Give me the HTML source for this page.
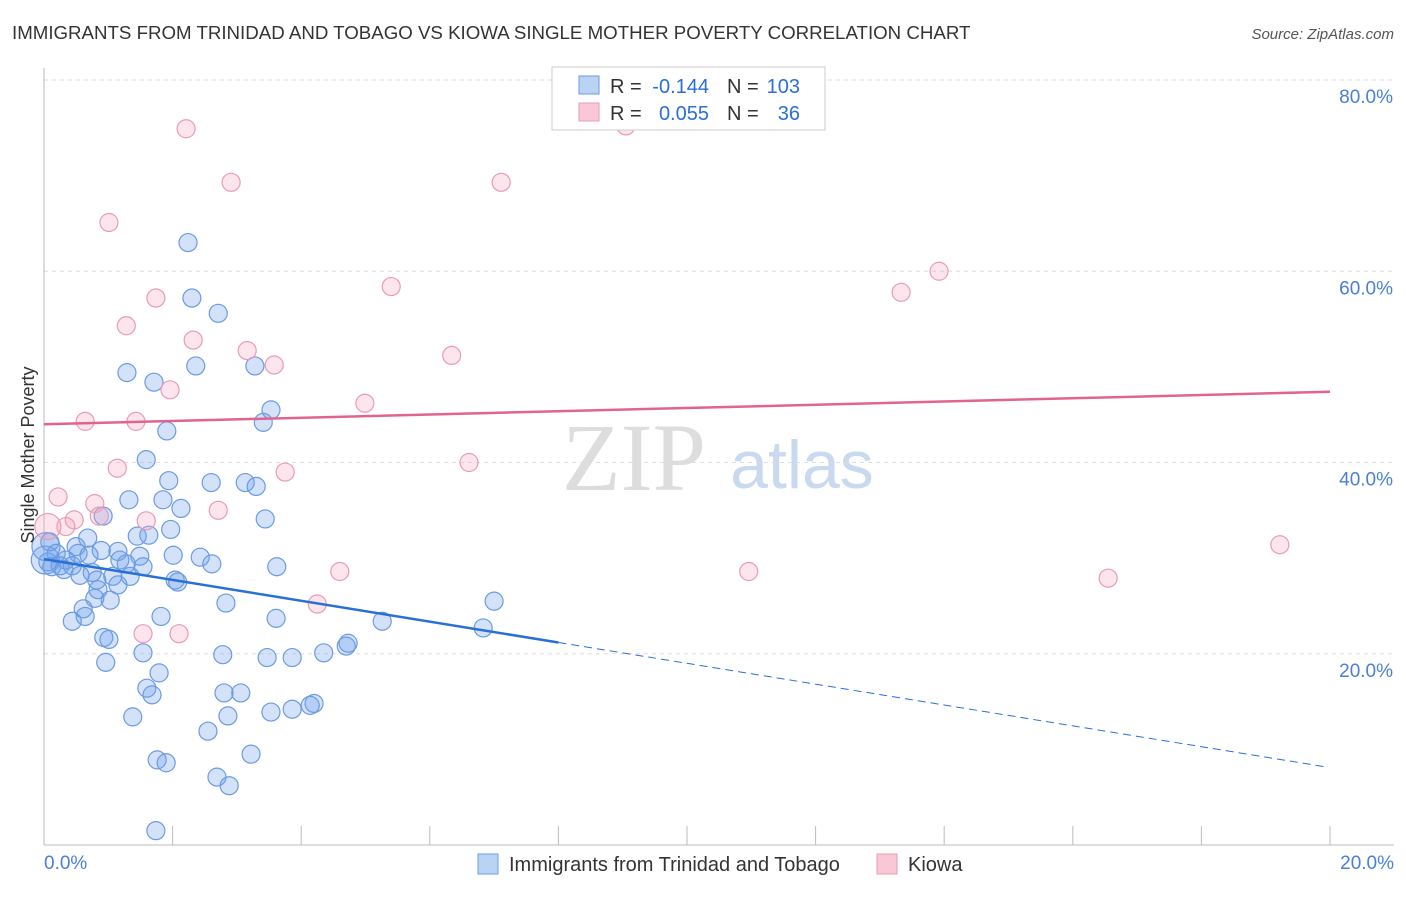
<!DOCTYPE html>
<html><head><meta charset="utf-8"><style>
body{margin:0;background:#fff;font-family:"Liberation Sans",sans-serif;}
</style></head><body>
<svg id="chart" width="1406" height="892" xmlns="http://www.w3.org/2000/svg">
<text x="12" y="39" font-size="18.7" fill="#333">IMMIGRANTS FROM TRINIDAD AND TOBAGO VS KIOWA SINGLE MOTHER POVERTY CORRELATION CHART</text>
<text x="1394" y="39" font-size="15" fill="#555" font-style="italic" text-anchor="end">Source: ZipAtlas.com</text>
<text x="634" y="490" font-size="96" fill="#ddd" font-family="Liberation Serif" text-anchor="middle">ZIP</text>
<text x="802" y="488" font-size="68" fill="#c8d9f0" text-anchor="middle">atlas</text>
<g id="grid"></g><g id="axes"></g><g id="pts"></g><g id="lines"></g>
<text x="34" y="455" font-size="18" fill="#333" transform="rotate(-90 34 455)" text-anchor="middle">Single Mother Poverty</text>
<g>
<rect x="552" y="67" width="273" height="63" fill="#fff" stroke="#ccc"/>
<rect x="579" y="76" width="20" height="18" fill="#b9d3f5" stroke="#6b9be0"/>
<rect x="579" y="103" width="20" height="18" fill="#f9c7d6" stroke="#e99bb5"/>
<text x="610" y="93" font-size="20" fill="#333">R =</text>
<text x="709" y="93" font-size="20" fill="#2a6fd6" text-anchor="end">-0.144</text>
<text x="727" y="93" font-size="20" fill="#333">N =</text>
<text x="800" y="93" font-size="20" fill="#2a6fd6" text-anchor="end">103</text>
<text x="610" y="120" font-size="20" fill="#333">R =</text>
<text x="709" y="120" font-size="20" fill="#2a6fd6" text-anchor="end">0.055</text>
<text x="727" y="120" font-size="20" fill="#333">N =</text>
<text x="800" y="120" font-size="20" fill="#2a6fd6" text-anchor="end">36</text>
</g>
<g>
<rect x="478" y="854" width="20" height="20" fill="#b9d3f5" stroke="#6b9be0"/>
<text x="509" y="871" font-size="20" fill="#333">Immigrants from Trinidad and Tobago</text>
<rect x="877" y="854" width="20" height="20" fill="#f9c7d6" stroke="#e99bb5"/>
<text x="908" y="871" font-size="20" fill="#333">Kiowa</text>
</g>
</svg>
<script>
const xTicks=[0,20];
const yTicks=[20,40,60,80];
const blueX=[2.24,2.30,2.71,2.36,3.28,1.29,1.71,3.53,3.41,1.91,1.59,1.94,2.60,3.13,3.30,1.32,1.85,2.13,0.92,3.44,1.97,1.45,1.63,0.68,0.09,0.50,0.89,1.15,0.19,0.53,0.70,2.01,1.49,2.43,1.18,0.34,0.06,1.28,2.61,0.25,0.44,1.54,3.62,0.12,0.31,0.75,0.56,1.07,1.34,0.82,2.04,2.08,1.15,0.84,0.79,1.03,2.83,7.00,0.61,1.82,0.64,3.61,0.44,5.26,6.83,0.93,1.01,4.73,4.70,1.54,2.78,4.35,3.47,3.86,0.96,1.79,1.60,1.68,2.80,3.06,4.20,4.14,3.86,3.53,1.38,2.86,2.55,3.22,1.76,1.90,2.69,2.88,1.74,0.02,0.03];
const blueY=[63.0,57.2,55.6,50.1,50.1,49.4,48.4,45.5,44.2,43.3,40.3,38.1,37.9,37.9,37.5,36.1,36.1,35.2,34.4,34.1,33.0,32.3,32.4,32.1,31.7,31.2,30.8,30.7,30.5,30.5,30.3,30.3,30.2,30.1,29.8,29.8,29.6,29.4,29.4,29.2,29.2,29.1,29.1,29.1,28.8,28.5,28.2,28.1,28.1,27.7,27.7,27.5,27.2,26.7,25.8,25.6,25.3,25.5,24.7,23.9,23.9,23.7,23.4,23.4,22.7,21.7,21.5,21.1,20.8,20.1,19.9,20.1,19.6,19.6,19.1,18.0,16.4,15.7,15.9,15.9,14.8,14.6,14.2,13.9,13.4,13.5,11.9,9.5,8.9,8.6,7.1,6.2,1.5,29.8,31.2];
const pinkX=[2.21,9.05,2.91,7.11,1.01,13.92,5.40,13.33,1.74,1.28,2.32,3.16,3.58,6.34,1.96,4.99,0.64,1.43,6.61,1.14,3.75,0.22,0.79,2.71,0.86,0.47,1.59,0.34,0.06,19.22,10.96,4.60,16.55,4.25,1.54,2.10];
const pinkY=[74.9,75.2,69.3,69.3,65.1,60.0,58.4,57.8,57.2,54.3,52.8,51.7,50.2,51.2,47.6,46.2,44.3,44.3,40.0,39.4,39.0,36.4,35.7,35.0,34.4,34.0,33.9,33.3,33.3,31.4,28.6,28.6,27.9,25.2,22.1,22.1];
const blueTrend=[29.9,-1.09];
const pinkTrend=[44.0,0.17];
const NS="http://www.w3.org/2000/svg";
const X=v=>44+v/20*1286, Y=v=>845-v/80*765;
function mk(p,t,a){const e=document.createElementNS(NS,t);for(const k in a)e.setAttribute(k,a[k]);document.getElementById(p).appendChild(e);return e;}
yTicks.forEach(t=>{
 const l=mk('grid','line',{x1:44,x2:1394,y1:Y(t),y2:Y(t),stroke:'#ddd','stroke-dasharray':'4 4'});
 
 
 const tx=mk('grid','text',{x:1393,y:Y(t)+23,'font-size':19,fill:'#4a7fd6','text-anchor':'end'});tx.textContent=t.toFixed(1)+'%';
 
 
});
mk('axes','line',{x1:44,x2:44,y1:68,y2:845,stroke:'#bbb'});
mk('axes','line',{x1:44,x2:1394,y1:845,y2:845,stroke:'#bbb'});
for(let i=1;i<=10;i++)mk('axes','line',{x1:X(i*2),x2:X(i*2),y1:826,y2:845,stroke:'#bbb'});
xTicks.forEach((t,i)=>{const tx=mk('axes','text',{x:i?1394:44,y:869,'font-size':19,fill:'#4a7fd6','text-anchor':i?'end':'start'});tx.textContent=t.toFixed(1)+'%';
 
 });
blueX.forEach((v,i)=>{const c=mk('pts','circle',{cx:X(v),cy:Y(blueY[i]),r:i>=93?14:9,fill:'rgba(110,160,235,0.3)',stroke:'#6b9be0','stroke-width':1.2});
 
 });
pinkX.forEach((v,i)=>{const c=mk('pts','circle',{cx:X(v),cy:Y(pinkY[i]),r:i==28?13:9,fill:'rgba(245,160,190,0.28)',stroke:'#e99bb5','stroke-width':1.2});
 
 });
const bt=x=>blueTrend[0]+blueTrend[1]*x, pt=x=>pinkTrend[0]+pinkTrend[1]*x;
let l=mk('lines','line',{x1:X(0),y1:Y(bt(0)),x2:X(8),y2:Y(bt(8)),stroke:'#2a6fd6','stroke-width':2.5});


l=mk('lines','line',{x1:X(8),y1:Y(bt(8)),x2:X(19.95),y2:Y(bt(19.95)),stroke:'#2a6fd6','stroke-width':1,'stroke-dasharray':'8 5'});


l=mk('lines','line',{x1:X(0),y1:Y(pt(0)),x2:X(20),y2:Y(pt(20)),stroke:'#e0648f','stroke-width':2.5});


</script>
</body></html>
